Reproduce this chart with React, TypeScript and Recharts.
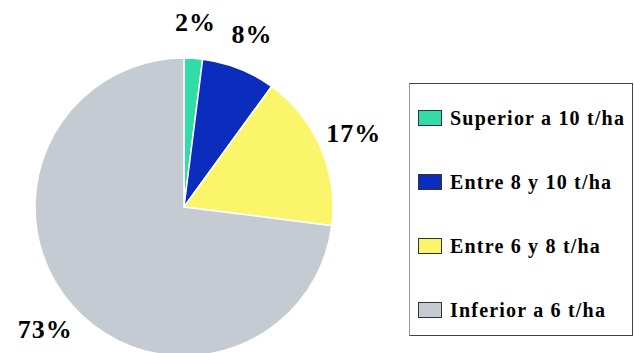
import { PieChart, Pie, Cell, Legend } from 'recharts'

const categories = [
  'Superior a 10 t/ha',
  'Entre 8 y 10 t/ha',
  'Entre 6 y 8 t/ha',
  'Inferior a 6 t/ha',
]
const shares = [2, 8, 17, 73]
const colors = ['#30DCA8', '#0B2DBE', '#FBF56A', '#C4CBD3']

const data = categories.map((name, i) => ({ name, value: shares[i] }))

const FONT = 'Liberation Serif, DejaVu Serif, serif'
const RAD = Math.PI / 180

// percentage labels sit outside the rim
const renderLabel = (props: any) => {
  const { cx, cy, midAngle, outerRadius, value } = props
  const r = outerRadius + 36
  const x = cx + r * Math.cos(-midAngle * RAD)
  const y = cy + r * Math.sin(-midAngle * RAD)
  return (
    <text
      x={x}
      y={y}
      textAnchor="middle"
      dominantBaseline="central"
      fill="#000"
      fontFamily={FONT}
      fontWeight="bold"
      fontSize={26}
      letterSpacing={1}
    >
      {`${value}%`}
    </text>
  )
}

const renderLegend = () => (
  <div
    style={{
      boxSizing: 'border-box',
      width: 224,
      height: 253,
      border: '1.5px solid #444',
      borderLeftColor: '#999',
      paddingTop: 2,
      background: '#fff',
    }}
  >
    {categories.map((c, i) => (
      <div
        key={c}
        style={{ height: 64, display: 'flex', alignItems: 'center', paddingLeft: 8 }}
      >
        <div
          style={{
            boxSizing: 'border-box',
            width: 24,
            height: 16,
            background: colors[i],
            border: '1.5px solid #333',
            marginRight: 8,
            flexShrink: 0,
          }}
        />
        <span
          style={{
            fontFamily: FONT,
            fontWeight: 'bold',
            fontSize: 20,
            letterSpacing: 1.2,
            color: '#000',
            whiteSpace: 'nowrap',
          }}
        >
          {c}
        </span>
      </div>
    ))}
  </div>
)

export default function App() {
  return (
    <div style={{ position: 'absolute', left: 0, top: 0, width: 634, height: 353, background: '#fff', fontFamily: FONT }}>
      <PieChart width={634} height={353} margin={{ top: 0, right: 0, bottom: 0, left: 0 }}>
        <Pie
          data={data}
          dataKey="value"
          nameKey="name"
          cx={184}
          cy={207}
          outerRadius={149}
          startAngle={90}
          endAngle={-270}
          stroke="#fff"
          strokeWidth={1.5}
          label={renderLabel}
          labelLine={false}
          isAnimationActive={false}
        >
          {data.map((d, i) => (
            <Cell key={d.name} fill={colors[i]} />
          ))}
        </Pie>
        <Legend
          content={renderLegend}
          wrapperStyle={{ position: 'absolute', left: 409, top: 83, width: 224, height: 253 }}
        />
      </PieChart>
    </div>
  )
}
